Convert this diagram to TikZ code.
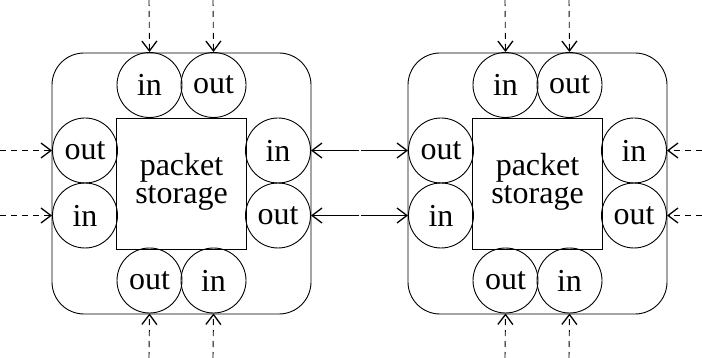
\documentclass[tikz,border=0pt]{standalone}
\usepackage{fontspec}
\setmainfont{Liberation Serif}
\usetikzlibrary{arrows.meta}
\begin{document}
\begin{tikzpicture}[x=1pt,y=-1pt,
  every node/.style={font=\fontsize{32}{32}\selectfont},
  port/.style={draw,circle,minimum size=65pt,inner sep=0pt,line width=0.9pt},
  frame/.style={draw,rounded corners=32pt,minimum width=259pt,minimum height=261pt,line width=0.9pt},
  store/.style={draw,minimum width=130pt,minimum height=131pt,inner sep=0pt,line width=0.9pt},
  storetext/.style={align=center,inner sep=0pt},
  feed/.style={dashed,dash pattern=on 6pt off 5pt,line width=0.9pt,-{Straight Barb[length=10pt,width=15pt,line width=1.3pt]}},
  link/.style={line width=0.9pt,-{Straight Barb[length=10pt,width=15pt,line width=1.3pt]}},
  router/.pic={
    \node[frame] (-frame) at (0,0) {};
    \node[store] (-store) at (0,0) {};
    \node[storetext] (-label) at (0,-1.5) {packet\\[-4pt]storage};
    \node[port] (-tin)  at (-32,-98.5) {in};
    \node[port] (-tout) at (32,-98.5) {out};
    \node[port] (-lout) at (-96.5,-33) {out};
    \node[port] (-lin)  at (-96.5,32) {in};
    \node[port] (-rin)  at (96.5,-33) {in};
    \node[port] (-rout) at (96.5,32) {out};
    \node[port] (-bout) at (-32,97) {out};
    \node[port] (-bin)  at (32,97) {in};
  }]
\useasboundingbox (0,0) rectangle (702,358);

\pic (A) at (181.5,183.5) {router};
\pic (B) at (537.5,183.5) {router};

% free ends of the incoming feeds
\coordinate (a1) at (149,0);   \coordinate (a2) at (213,0);
\coordinate (a3) at (149,358); \coordinate (a4) at (213,358);
\coordinate (a5) at (0,150.5); \coordinate (a6) at (0,215.5);
\coordinate (b1) at (505,0);   \coordinate (b2) at (569,0);
\coordinate (b3) at (505,358); \coordinate (b4) at (569,358);
\coordinate (b5) at (702,150.5); \coordinate (b6) at (702,215.5);
\coordinate (m1l) at (359,150.5); \coordinate (m1r) at (361,150.5);
\coordinate (m2l) at (359,215.5); \coordinate (m2r) at (361,215.5);

\draw[feed] (a1) -- (A-tin.north);
\draw[feed] (a2) -- (A-tout.north);
\draw[feed] (a3) -- (A-bout.south);
\draw[feed] (a4) -- (A-bin.south);
\draw[feed] (a5) -- (A-lout.west);
\draw[feed] (a6) -- (A-lin.west);

\draw[feed] (b1) -- (B-tin.north);
\draw[feed] (b2) -- (B-tout.north);
\draw[feed] (b3) -- (B-bout.south);
\draw[feed] (b4) -- (B-bin.south);
\draw[feed] (b5) -- (B-rin.east);
\draw[feed] (b6) -- (B-rout.east);

% links between the two routers
\draw[link] (m1l) -- (A-rin.east);
\draw[link] (m1r) -- (B-lout.west);
\draw[link] (m2l) -- (A-rout.east);
\draw[link] (m2r) -- (B-lin.west);
\end{tikzpicture}
\end{document}
